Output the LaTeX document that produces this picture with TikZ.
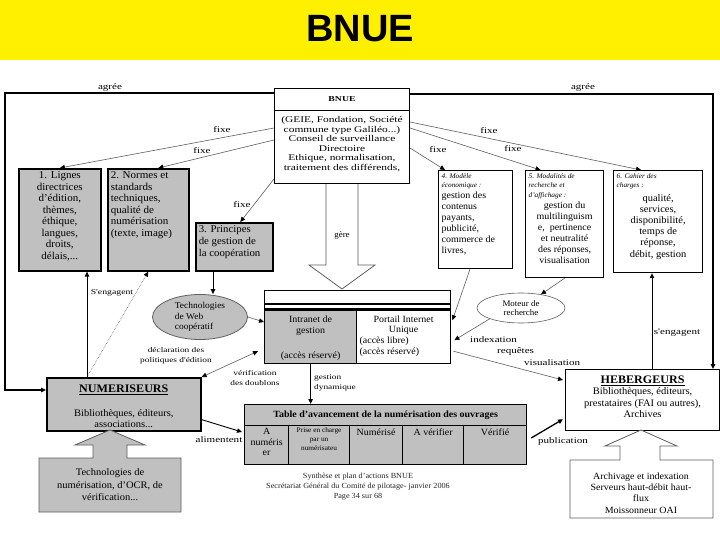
\documentclass[tikz,border=0pt]{standalone}
\usepackage{fontspec}
\setmainfont{Liberation Serif}[FakeStretch=1.05]
\setsansfont{Liberation Sans}
\newfontfamily\widefont{Liberation Serif}[FakeStretch=1.3]
\usetikzlibrary{arrows.meta,shapes.geometric,calc}
\definecolor{boxgray}{RGB}{192,192,192}
\definecolor{linegray}{RGB}{95,95,95}
\definecolor{titleyellow}{RGB}{255,240,0}
\newcommand\fsz[2]{\fontsize{#1}{#2}\selectfont}
\newcommand\tb[3]{\parbox[c][#2pt][t]{#1pt}{#3}}
\begin{document}
\begin{tikzpicture}[x=1pt,y=-1pt,
  gbox/.style={draw=black, line width=1.6pt, fill=boxgray, inner sep=3pt, anchor=north west},
  wbox/.style={draw=black, line width=1.2pt, fill=white, inner sep=3pt, anchor=north west},
  tip/.style={-{Triangle[length=5pt,width=4.5pt,color=black,fill=black]}},
  conn/.style={draw=linegray, line width=0.6pt, tip},
  bconn/.style={draw=black, line width=0.9pt, tip},
  lbl/.style={font=\widefont\fsz{8.5}{9.5}, inner sep=0, align=center},
  slbl/.style={font=\widefont\fsz{7.2}{9.5}, inner sep=0, align=center},
  cell/.style={draw=black, line width=1.2pt, fill=boxgray, inner sep=2pt, anchor=north west},
]
\useasboundingbox (0,0) rectangle (720,540);
\fill[white] (0,0) rectangle (720,540);
\fill[titleyellow] (0,0) rectangle (720,60);
\node[font=\sffamily\bfseries\fsz{38}{40}] (title) at (360,29) {BNUE};

% gere arrow
\draw[draw=linegray, fill=white, line width=0.8pt] (326,183) -- (326,265) -- (309,265) -- (342,289) -- (375,265) -- (358,265) -- (358,183);
\node[font=\fsz{8.5}{9.5}, inner sep=0] (gere) at (342,235) {gère};

% BNUE box
\node[draw=black, line width=1pt, fill=white, anchor=north west, minimum width=135, minimum height=22, inner sep=0, font=\widefont\fsz{7.5}{9}\bfseries] (bnuehead) at (274,88) {BNUE};
\node[draw=black, line width=1pt, fill=white, anchor=north west, inner sep=0] (bnue) at (274,110) {\tb{135}{73}{\centering\widefont\fsz{8.8}{9.5}\vspace*{6pt}(GEIE, Fondation, Société\\commune type Galiléo...)\\Conseil de surveillance\\Directoire\\Ethique, normalisation,\\traitement des différends,}};

% top boxes
\node[gbox] (b1) at (18,168) {\tb{76}{96}{\centering\fsz{10.5}{11.5}1. Lignes\\directrices\\d'édition,\\thèmes,\\éthique,\\langues,\\droits,\\délais,...}};
\node[gbox] (b2) at (107,168) {\tb{75}{96}{\raggedright\fsz{10.5}{11.5}2. Normes et\\standards\\techniques,\\qualité de\\numérisation\\(texte, image)}};
\node[gbox] (b3) at (195,222) {\tb{71}{42}{\raggedright\fsz{10.3}{11.8}3. Principes\\de gestion de\\la coopération}};
\node[wbox] (b4) at (438,170) {\tb{68}{92}{\raggedright{\itshape\fsz{7}{9}4. Modèle\\économique :\par}\fsz{9.5}{11}gestion des\\contenus\\payants,\\publicité,\\commerce de\\livres,}};
\node[wbox] (b5) at (525,170) {\tb{72}{101}{\raggedright{\itshape\fsz{7}{9.5}5. Modalités de\\recherche et\\d'affichage :\par}\centering\fsz{9.5}{11}gestion du\\multilinguism\\e,~ pertinence\\et neutralité\\des réponses,\\visualisation}};
\node[wbox] (b6) at (613,170) {\tb{83}{96}{\raggedright{\itshape\fsz{7}{9.5}6. Cahier des\\charges :\par}\vspace{2pt}\centering\fsz{10}{11.2}qualité,\\services,\\disponibilité,\\temps de\\réponse,\\débit, gestion}};

% intranet frame
\node[draw=black, line width=1.4pt, fill=white, anchor=north west, minimum width=186, minimum height=73, inner sep=0] (frame) at (264,290) {};
\draw[line width=1.8pt] (264,304) -- (450,304);
\draw[line width=1.8pt] (264,309) -- (450,309);
\node[cell, inner sep=3pt] (intra) at (264,310) {\tb{86}{47}{\centering\vspace*{2pt}\fsz{9.5}{11}Intranet de\\gestion\par\vfill(accès réservé)}};
\node[draw=black, line width=1.2pt, fill=white, anchor=north west, inner sep=3pt] (portail) at (356,310) {\tb{88}{47}{\centering\vspace*{2pt}\fsz{9.5}{10.8}Portail Internet\\Unique\par\raggedright(accès libre)\\(accès réservé)}};

% ellipses
\node[ellipse, draw=linegray, line width=0.8pt, fill=boxgray, minimum width=95, minimum height=45, inner sep=0, font=\fsz{9}{10.5}, align=left] (web) at (200,317) {Technologies\\de Web\\coopératif};
\node[ellipse, draw=linegray, line width=0.6pt, fill=white, minimum width=88, minimum height=30, inner sep=0, align=center, font=\fsz{8.5}{9.5}] (moteur) at (521,308) {Moteur de\\recherche};

% actors
\node[gbox] (numer) at (46,377) {\tb{148}{47}{\centering\vspace*{4pt}{\fsz{11.5}{13}\bfseries\underline{NUMERISEURS}\par}\vspace{13pt}\fsz{10}{11}Bibliothèques, éditeurs,\\associations...}};
\node[wbox] (heb) at (565,369) {\tb{148}{55}{\centering\vspace*{3pt}{\fsz{11.5}{13}\bfseries\underline{HEBERGEURS}\par}\fsz{10}{11.5}Bibliothèques, éditeurs,\\prestataires (FAI ou autres),\\Archives}};

% table
\node[cell, minimum width=282, minimum height=21, font=\fsz{9.5}{11}\bfseries] (thead) at (244,404) {Table d'avancement de la numérisation des ouvrages};
\node[cell] (c1) at (244,425) {\tb{40}{35}{\centering\vspace*{1pt}\fsz{9.5}{10.5}A\\numéris\\er}};
\node[cell] (c2) at (288,425) {\tb{57}{35}{\centering\fsz{7}{9}Prise en charge\\par un\\numérisateu}};
\node[cell] (c3) at (349,425) {\tb{49}{35}{\centering\vspace*{1pt}\fsz{9.5}{10.5}Numérisé}};
\node[cell] (c4) at (402,425) {\tb{57}{35}{\centering\vspace*{1pt}\fsz{9.5}{10.5}A vérifier}};
\node[cell] (c5) at (463,425) {\tb{59}{35}{\centering\vspace*{1pt}\fsz{9.5}{10.5}Vérifié}};

% hollow arrows + boxes below
\draw[draw=linegray, fill=boxgray, line width=0.8pt] (39,512) -- (39,458) -- (93,458) -- (93,445) -- (75,445) -- (110,430) -- (145,445) -- (127,445) -- (127,458) -- (181,458) -- (181,512) -- cycle;
\node[font=\fsz{10}{12.5}, align=center] (tecnum) at (110,485) {Technologies de\\numérisation, d'OCR, de\\vérification...};
\draw[draw=linegray, fill=white, line width=0.8pt] (570,518) -- (570,460) -- (620,460) -- (620,446) -- (605,446) -- (641,430) -- (677,446) -- (660,446) -- (660,460) -- (713,460) -- (713,518) -- cycle;
\node[font=\fsz{9.5}{11.3}, align=center] (arch) at (641,493) {Archivage et indexation\\Serveurs haut-débit haut-\\flux\\Moissonneur OAI};

% agree lines
\coordinate (agL) at (5,93);
\coordinate (agR) at (713,94);
\draw[draw=black, line width=1.2pt, tip] ($(bnuehead.north west)+(0,5)$) -- (agL) |- ($(numer.north west)+(0,13)$);
\draw[draw=black, line width=1.2pt, tip] ($(bnuehead.north east)+(0,6)$) -- (agR) -- (agR |- heb.north);
\node[lbl] (agl) at (110,87) {agrée};
\node[lbl] (agr) at (583,87) {agrée};

% fixe
\draw[conn] ($(bnue.north west)+(0,18)$) -- (b1.north);
\draw[conn] ($(bnue.north west)+(0,30)$) -- ($(b2.north)+(10,0)$);
\draw[conn] ($(bnue.south west)+(0,-5)$) -- ($(b3.north)+(6,0)$);
\draw[conn] ($(bnue.north east)+(0,12)$) -- ($(b6.north)+(-17,0)$);
\draw[conn] ($(bnue.north east)+(0,18)$) -- ($(b5.north)+(-24,0)$);
\draw[conn] ($(bnue.north east)+(0,38)$) -- ($(b4.north west)+(7,0)$);
\node[lbl] (fx1) at (222,130) {fixe};
\node[lbl] (fx2) at (202,151) {fixe};
\node[lbl] (fx3) at (242,205) {fixe};
\node[lbl] (fx4) at (489,131) {fixe};
\node[lbl] (fx5) at (513,149) {fixe};
\node[lbl] (fx6) at (438,150) {fixe};

% s'engagent
\coordinate (hs) at ($(heb.north west)+(87,0)$);
\draw[bconn] (hs) -- (hs |- b6.south);
\node[lbl] (seng2) at (677,333) {s'engagent};
\coordinate (ns) at ($(numer.north west)+(41,0)$);
\draw[bconn] (ns) -- (ns |- b1.south);
\draw[conn, densely dotted] (ns) -- (b2.south);
\node[lbl, font=\widefont\fsz{7.5}{9}] (seng1) at (112,293) {S'engagent};

% cooperation web
\coordinate (b3s) at ($(b3.south west)+(18,0)$);
\draw[bconn] (b3s) -- (b3s |- web.north);
\draw[conn] (web.east) -- ($(intra.north west)+(0,12)$);
\node[slbl] (decl) at (176,356) {déclaration des\\politiques d'édition};
\draw[conn, {Triangle[length=5pt,width=4.5pt,color=black,fill=black]}-{Triangle[length=5pt,width=4.5pt,color=black,fill=black]}] (numer.north east) -- ($(intra.south west)+(-6,-13)$);
\node[slbl] (verif) at (255,378) {vérification\\des doublons};

% gestion dynamique
\draw[bconn] (intra.south) -- (intra.south |- thead.north);
\node[slbl, align=left, anchor=north west] (gdyn) at (314,375) {gestion\\dynamique};

% moteur links
\draw[conn] ($(b4.south west)+(32,0)$) -- ($(frame.east)+(1,-7)$);
\draw[conn] (b5.south) -- (moteur);
\draw[conn] (moteur.south west) -- ($(frame.east)+(3,13)$);
\draw[conn] ($(frame.east)+(2,24)$) -- ($(heb.north west)+(-2,11)$);
\node[lbl, anchor=west] (idx) at (470,340) {indexation};
\node[lbl, anchor=west] (req) at (497,351) {requêtes};
\node[lbl, anchor=west] (visu) at (524,363) {visualisation};

% alimentent / publication
\draw[bconn] ($(numer.south east)+(0,-12)$) -- ($(c1.north west)+(-2,7)$);
\node[lbl] (alim) at (219,440) {alimentent};
\draw[draw=black, line width=1.3pt, tip] ($(c5.north east)+(4,13)$) -- ($(heb.south west)+(-2,-12)$);
\node[lbl] (publ) at (563,441) {publication};

% footer
\node[font=\fsz{7.8}{10}, align=center, text=black!85] (foot) at (358,487) {Synthèse et plan d'actions BNUE\\Secrétariat Général du Comité de pilotage- janvier 2006\\Page 34 sur 68};
\end{tikzpicture}
\end{document}
